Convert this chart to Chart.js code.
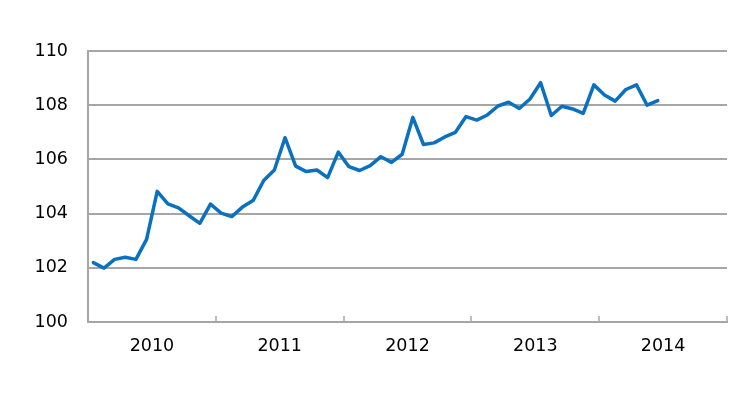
<!DOCTYPE html>
<html>
<head>
<meta charset="utf-8">
<script src="https://cdn.jsdelivr.net/npm/chart.js@4.4.0/dist/chart.umd.min.js"></script>
<style>
  html, body { margin: 0; padding: 0; background: #fff; }
  #wrap { width: 755px; height: 394px; }
</style>
</head>
<body>
<div id="wrap"><canvas id="indexChart" width="755" height="394"></canvas></div>
<script>
// monthly index, Jan 2010 .. Jun 2014
const years = ['2010', '2011', '2012', '2013', '2014'];
const values = [
    102.19, 101.99, 102.31, 102.39, 102.31, 103.05, 104.82, 104.36, 104.21, 103.92, 103.64, 104.35,
    104.02, 103.89, 104.24, 104.48, 105.22, 105.61, 106.80, 105.75, 105.55, 105.61, 105.33, 106.27,
    105.73, 105.59, 105.77, 106.10, 105.89, 106.19, 107.55, 106.55, 106.61, 106.83, 107.00, 107.58,
    107.45, 107.64, 107.97, 108.11, 107.88, 108.23, 108.83, 107.62, 107.96, 107.86, 107.70, 108.75,
    108.38, 108.15, 108.58, 108.75, 108.00, 108.17
];
const yTicks = [100, 102, 104, 106, 108, 110];

const gridColor = '#a6a6a6';
const lineColor = '#0a70c0';
const labelFont = { family: 'DejaVu Sans', size: 17.5 };

// points sit in the middle of each month slot
const points = values.map((v, i) => ({ x: i + 0.5, y: v }));

// short upward ticks at the year boundaries
const yearTicks = {
    id: 'yearTicks',
    afterDraw(chart) {
        const { ctx, scales: { x, y } } = chart;
        const base = y.getPixelForValue(yTicks[0]);
        ctx.save();
        ctx.strokeStyle = gridColor;
        ctx.lineWidth = 1.5;
        for (let m = 0; m <= years.length * 12; m += 12) {
            const px = Math.round(x.getPixelForValue(m));
            ctx.beginPath();
            ctx.moveTo(px, base);
            ctx.lineTo(px, base - 6);
            ctx.stroke();
        }
        ctx.restore();
    }
};

new Chart(document.getElementById('indexChart'), {
    type: 'line',
    data: {
        datasets: [{
            data: points,
            borderColor: lineColor,
            borderWidth: 3.5,
            borderJoinStyle: 'round',
            borderCapStyle: 'round',
            pointRadius: 0,
            tension: 0,
            fill: false
        }]
    },
    options: {
        responsive: false,
        animation: false,
        layout: { padding: { top: 51, right: 28, left: 0, bottom: 0 } },
        plugins: {
            legend: { display: false },
            tooltip: { enabled: false }
        },
        scales: {
            x: {
                type: 'linear',
                min: 0,
                max: years.length * 12,
                afterFit: s => { s.height = 72; },
                grid: { display: false, drawTicks: false },
                border: { display: true, color: gridColor, width: 2 },
                ticks: {
                    stepSize: 6,
                    autoSkip: false,
                    maxRotation: 0,
                    padding: 14,
                    color: '#000',
                    font: labelFont,
                    callback: v => (v % 12 === 6 ? years[(v - 6) / 12] : '')
                }
            },
            y: {
                min: yTicks[0],
                max: yTicks[yTicks.length - 1],
                afterFit: s => { s.width = 88; },
                afterBuildTicks: s => { s.ticks = yTicks.map(v => ({ value: v })); },
                grid: { color: gridColor, lineWidth: 2, drawTicks: false },
                border: { display: true, color: gridColor, width: 2 },
                ticks: {
                    padding: 20,
                    color: '#000',
                    font: labelFont
                }
            }
        }
    },
    plugins: [yearTicks]
});
</script>
</body>
</html>
